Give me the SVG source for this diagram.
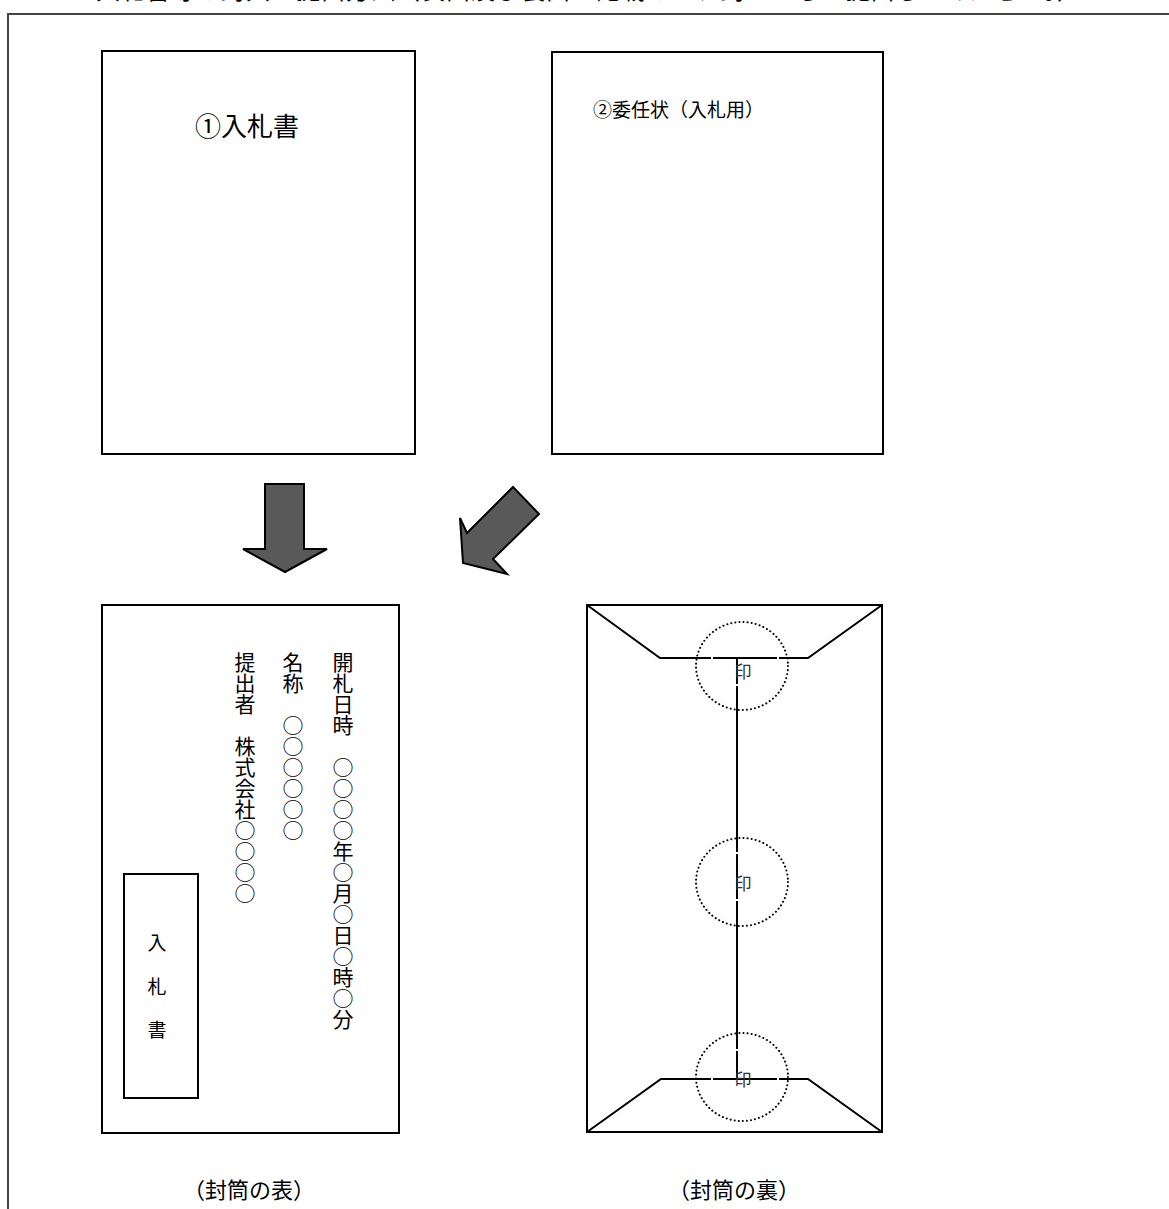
<svg xmlns="http://www.w3.org/2000/svg" width="1169" height="1209" viewBox="0 0 1169 1209">
<style>
.t{font-family:"Noto Sans CJK JP","Noto Sans",sans-serif;fill:#000}
.box{fill:#fff;stroke:#000;stroke-width:2}
.ln{fill:none;stroke:#000;stroke-width:2}
.dot{fill:none;stroke:#000;stroke-width:2;stroke-dasharray:0.1 4;stroke-linecap:round}
.arr{fill:#595959;stroke:#000;stroke-width:2;stroke-linejoin:miter}
.gap{fill:none;stroke:#fff;stroke-width:2}
.v{writing-mode:vertical-rl;font-size:21px}
.seal{font-size:17px;fill:#333;text-anchor:middle;dominant-baseline:central}
</style>
<rect width="1169" height="1209" fill="#fff"/>
<text class="t" x="96" y="-1" font-size="24" textLength="985" lengthAdjust="spacing">入札書等の封入・提出方法（表面及び裏面に記載の上、封かんして提出してください。）</text>
<rect x="8" y="14" width="1200" height="1300" fill="none" stroke="#444" stroke-width="2"/>

<g id="doc1">
<rect class="box" x="102" y="51" width="313" height="403"/>
<text class="t" x="195" y="136" font-size="26">①入札書</text>
</g>
<g id="doc2">
<rect class="box" x="552" y="52" width="331" height="402"/>
<text class="t" x="593" y="117" font-size="19">②委任状（入札用）</text>
</g>

<g id="connectors">
<polygon class="arr" points="265,484 304,484 304,549 327,549 285,572 243,549 265,549"/>
<polygon class="arr" points="513,487 539,514 493,559 507,574 463,563 460,518 467,533"/>
</g>

<g id="envelope-front">
<rect class="box" x="102" y="605" width="297" height="528"/>
<text class="t v" x="343" y="652">開札日時　○○○○年○月○日○時○分</text>
<text class="t v" x="293" y="652">名称　○○○○○○</text>
<text class="t v" x="245" y="652">提出者　株式会社○○○○</text>
<rect class="box" x="124" y="874" width="74" height="224"/>
<text class="t" x="157" y="950" font-size="19" text-anchor="middle">入</text>
<text class="t" x="157" y="994" font-size="19" text-anchor="middle">札</text>
<text class="t" x="157" y="1037" font-size="19" text-anchor="middle">書</text>
<text class="t" x="249" y="1198" font-size="22" text-anchor="middle">（封筒の表）</text>
</g>

<g id="envelope-back">
<rect class="box" x="587" y="605" width="295" height="527"/>
<polyline class="ln" points="587,605 660,658 808,658 882,605"/>
<polyline class="ln" points="587,1132 661,1079 808,1079 882,1132"/>
<line class="ln" x1="737" y1="658" x2="737" y2="1079"/>
<rect class="gap" x="712" y="652" width="66" height="33"/>
<rect class="gap" x="712" y="853" width="66" height="47"/>
<rect class="gap" x="712" y="1050" width="66" height="50"/>
<ellipse class="dot" cx="742" cy="666" rx="46" ry="44"/>
<ellipse class="dot" cx="742" cy="882" rx="46" ry="44"/>
<ellipse class="dot" cx="742" cy="1077" rx="46" ry="44"/>
<text class="t seal" x="743" y="670">印</text>
<text class="t seal" x="743" y="882">印</text>
<text class="t seal" x="743" y="1078">印</text>
<text class="t" x="734" y="1198" font-size="22" text-anchor="middle">（封筒の裏）</text>
</g>
</svg>
